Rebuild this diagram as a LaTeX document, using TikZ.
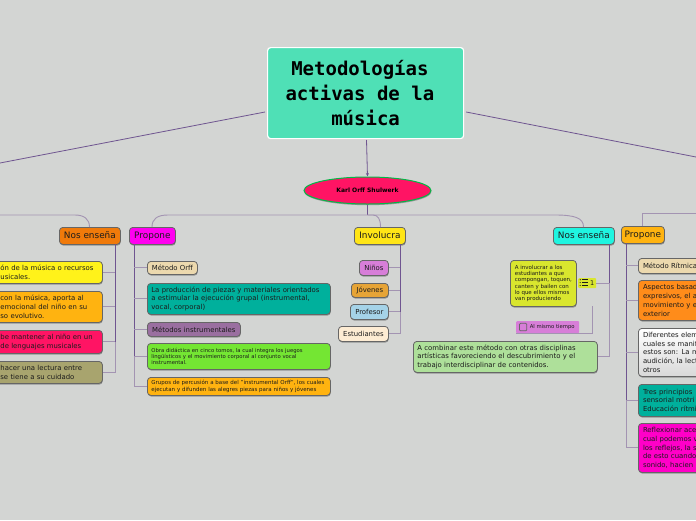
\documentclass[tikz,border=0pt]{standalone}
\usepackage{fontspec}
\setmainfont{DejaVu Sans}
\newfontfamily\titlefont{DejaVu Sans Mono}
\usetikzlibrary{shapes.geometric,shadows,arrows.meta}
\definecolor{bgc}{HTML}{D3D5D3}
\definecolor{trunkc}{HTML}{6F5590}
\definecolor{softc}{HTML}{A394B2}
\definecolor{edgec}{HTML}{666666}
\definecolor{txtc}{HTML}{1C1C1C}
\definecolor{titlec}{HTML}{4FE0B6}
\definecolor{pinkc}{HTML}{FF1464}
\definecolor{orangec}{HTML}{F07A0A}
\definecolor{yellowc}{HTML}{FFF21A}
\definecolor{amberc}{HTML}{FFB310}
\definecolor{olivec}{HTML}{A8A46E}
\definecolor{magentac}{HTML}{FF00F0}
\definecolor{creamc}{HTML}{ECD9AE}
\definecolor{tealc}{HTML}{00B09C}
\definecolor{mauvec}{HTML}{9A6FA0}
\definecolor{limec}{HTML}{74E633}
\definecolor{goldc}{HTML}{FFE516}
\definecolor{orchidc}{HTML}{D77ED8}
\definecolor{ochrec}{HTML}{E6A436}
\definecolor{bluec}{HTML}{A5D3E8}
\definecolor{peachc}{HTML}{FDECD3}
\definecolor{cyanc}{HTML}{1FF5E0}
\definecolor{acidc}{HTML}{D9E62E}
\definecolor{leafc}{HTML}{AEE09A}
\definecolor{tangc}{HTML}{FF8C1A}
\definecolor{hotc}{HTML}{FF00C8}
\tikzset{
  x=1pt,y=-1pt,
  boxbase/.style={rounded corners=3.5pt,draw=edgec,line width=.8pt,text=txtc,inner sep=0pt,
    drop shadow={shadow xshift=.4pt,shadow yshift=-1.2pt,fill=black,opacity=.3}},
  trunk/.style={draw=trunkc,line width=.9pt},
  soft/.style={draw=softc,line width=.9pt},
  top/.style={font=\fontsize{8.9}{10}\selectfont,align=center,text height=6.6pt,text depth=1.8pt},
  mid/.style={font=\fontsize{6.9}{8.7}\selectfont,align=left},
  small/.style={font=\fontsize{5.3}{6.3}\selectfont,align=left},
}
% name, x, y, w, h, options, text
\newcommand\bx[7]{\node[boxbase,anchor=north west,minimum width=#4pt,minimum height=#5pt,#6] (#1) at (#2,#3) {#7};}
\begin{document}
\begin{tikzpicture}
\useasboundingbox (0,0) rectangle (696,520);
\clip (0,0) rectangle (696,520);
\fill[bgc] (0,0) rectangle (696,520);

% centre
\node[draw=white,line width=1.2pt,rounded corners=3pt,fill=titlec,minimum width=196pt,minimum height=91pt,anchor=north west,inner sep=0pt,align=center,
  font=\titlefont\bfseries\fontsize{19}{25}\selectfont] (title) at (267,47) {Metodologías\rule{11.4pt}{0pt}\\activas de la\rule{11.4pt}{0pt}\\música};
\node[ellipse,draw=green!45!teal,line width=1pt,fill=pinkc,minimum width=127pt,minimum height=27pt,inner sep=0pt,anchor=center,
  font=\bfseries\fontsize{6}{7}\selectfont,
  drop shadow={shadow xshift=.4pt,shadow yshift=-1.2pt,fill=black,opacity=.3}] (karl) at (367.5,190.5) {Karl Orff Shulwerk};

% left branch
\bx{a0}{59}{227}{61}{17}{fill=orangec,top}{Nos enseña}
\bx{a1}{-60}{261}{162}{22}{fill=yellowc,mid,text width=160pt}{\hspace*{59pt}ón de la música o recursos\\\hspace*{59pt}usicales.}
\bx{a2}{-60}{291}{162}{31}{fill=amberc,mid,text width=160pt}{\hspace*{59pt}con la música, aporta al\\\hspace*{59pt}emocional del niño en su\\\hspace*{59pt}so evolutivo.}
\bx{a3}{-60}{330}{162}{23}{fill=pinkc,mid,text width=160pt}{\hspace*{59pt}be mantener al niño en un\\\hspace*{59pt}de lenguajes musicales}
\bx{a4}{-60}{361}{162}{22}{fill=olivec,mid,text width=160pt}{\hspace*{59pt}hacer una lectura entre\\\hspace*{59pt}se tiene a su cuidado}

% Propone
\bx{b0}{129}{227}{46}{17}{fill=magentac,top}{Propone}
\bx{b1}{147}{261}{50}{13}{fill=creamc,mid,align=center}{Método Orff}
\bx{b2}{147}{283}{183}{31}{fill=tealc,mid,text width=175pt,inner xsep=4pt}{La producción de piezas y materiales orientados\\a estimular la ejecución grupal (instrumental,\\vocal, corporal)}
\bx{b3}{147}{322}{93}{14}{fill=mauvec,mid,align=center}{Métodos instrumentales}
\bx{b4}{147}{343}{183}{26}{fill=limec,small,text width=175pt,inner xsep=4pt}{Obra didáctica en cinco tomos, la cual integra los juegos\\lingüísticos y el movimiento corporal al conjunto vocal\\instrumental.}
\bx{b5}{147}{377}{183}{18}{fill=amberc,small,font=\fontsize{5.5}{6.3}\selectfont,text width=175pt,inner xsep=4pt}{Grupos de percusión a base del "instrumental Orff", los cuales\\ejecutan y difunden las alegres piezas para niños y jóvenes}

% Involucra
\bx{c0}{354}{227}{51}{17}{fill=goldc,top}{Involucra}
\bx{c1}{359}{260}{29}{15}{fill=orchidc,mid,align=center}{Niños}
\bx{c2}{351}{283}{37}{14}{fill=ochrec,mid,align=center}{Jóvenes}
\bx{c3}{350}{304}{38}{15}{fill=bluec,mid,align=center}{Profesor}
\bx{c4}{338}{326}{50}{15}{fill=peachc,mid,align=center}{Estudiantes}

% Nos ensena right
\bx{d0}{553}{227}{61}{17}{fill=cyanc,top}{Nos enseña}
\bx{d1}{510}{260}{66}{46}{fill=acidc,small,font=\fontsize{5.5}{6.3}\selectfont}{A involucrar a los\\estudiantes a que\\compongan, toquen,\\canten y bailen con\\lo que ellos mismos\\van produciendo}
\node[fill=acidc,rounded corners=1pt,minimum width=18pt,minimum height=10pt,inner sep=0pt,anchor=north west,text=txtc,font=\fontsize{6.5}{7}\selectfont] (d2) at (578,278) {\hspace*{10pt}1};
\node[fill=orchidc,rounded corners=1pt,minimum width=63pt,minimum height=12pt,inner sep=0pt,anchor=north west,text=txtc,font=\fontsize{5.3}{6}\selectfont] (d3) at (516,321) {\hspace*{9pt}Al mismo tiempo};
\bx{d4}{413}{341}{184}{31}{fill=leafc,mid,text width=176pt,inner xsep=4pt}{A combinar este método con otras disciplinas\\artísticas favoreciendo el descubrimiento y el\\trabajo interdisciplinar de contenidos.}
\draw[edgec,rounded corners=1pt,line width=.7pt] (519.5,323.3) rectangle (526.7,330.8);
\foreach \yy in {279.8,282.6,285.4}{
  \draw[txtc,line width=.7pt] (581.8,\yy) -- (588,\yy);
  \fill[txtc] (580.2,\yy) circle (.6pt);
}

% Propone right
\bx{e0}{621}{226}{43}{17}{fill=amberc,top}{Propone}
\bx{e1}{638}{258}{110}{15}{fill=creamc,mid,text width=101pt,inner xsep=4.6pt}{Método Rítmica}
\bx{e2}{638}{280}{110}{40}{fill=tangc,mid,text width=101pt,inner xsep=4.6pt}{Aspectos basad\\expresivos, el a\\movimiento y e\\exterior}
\bx{e3}{638}{328}{110}{48}{top color=white,bottom color=gray!30,mid,text width=101pt,inner xsep=4.6pt}{Diferentes elem\\cuales se manif\\estos son: La m\\audición, la lect\\otros}
\bx{e4}{638}{384}{110}{32}{fill=tealc,mid,text width=101pt,inner xsep=4.6pt}{Tres principios\\sensorial motri\\Educación rítmi}
\bx{e5}{638}{423}{110}{49}{fill=hotc,mid,text width=101pt,inner xsep=4.6pt}{Reflexionar ace\\cual podemos v\\los reflejos, la s\\de esto cuando\\sonido, hacien}

% coordinates for connectors
\coordinate (ltl) at (0,163);
\coordinate (ltr) at (696,157);
\coordinate (hub) at (367.5,215);
\coordinate (hl) at (0,215);
\coordinate (hr) at (696,213);
\coordinate (a0t) at (89.5,227);
\coordinate (b0t) at (152,227);
\coordinate (c0t) at (380.5,227);
\coordinate (d0t) at (583.5,227);
\coordinate (e0t) at (642,226);
\coordinate (ta) at (115,244);
\coordinate (tb) at (134,244);
\coordinate (tc) at (400,244);
\coordinate (td) at (609,244);
\coordinate (te) at (626,243);
\coordinate (d3r) at (592,306);

% connectors
\draw[trunkc,line width=.8pt] (title.west |- 0,112) ++(-2,0) -- (ltl);
\draw[trunkc,line width=.8pt] (title.east |- 0,112) ++(2,0) -- (ltr);
\draw[trunkc,line width=.8pt,-{Stealth[length=3.5pt,width=3pt]}] (366.5,140) -- (karl.north);
\draw[trunkc,line width=1.1pt] (karl.south) -- (hub);
\draw[soft] (hl) -- (75,215) .. controls (84,215) and (89.5,219) .. (a0t);
\draw[soft] (b0t) .. controls (152,219) and (157,215) .. (168,215) -- (hub);
\draw[soft] (hub) -- (373,215) .. controls (378,215) and (380.5,219) .. (c0t);
\draw[soft] (hub) -- (555,215) .. controls (575,215) and (583.5,218) .. (d0t);
\draw[soft] (e0t) -- (642,213) -- (hr);

\draw[soft] (ta |- a3.east) |- (a4.east);
\draw[trunk] (ta) -- (ta |- a3.east);
\foreach \n in {a1,a2,a3}{\draw[soft] (ta |- \n.east) -- (\n.east);}

\draw[soft] (tb |- b4.west) |- (b5.west);
\draw[trunk] (tb) -- (tb |- b4.west);
\foreach \n in {b1,b2,b3,b4}{\draw[soft] (tb |- \n.west) -- (\n.west);}

\draw[soft] (tc |- c3.east) |- (c4.east);
\draw[trunk] (tc) -- (tc |- c3.east);
\foreach \n in {c1,c2,c3}{\draw[soft] (tc |- \n.east) -- (\n.east);}

\draw[trunk] (td) -- (td |- d2.east);
\draw[soft] (td |- d2.east) -- (d2.east);
\draw[soft] (td |- d2.east) |- (d4.east);
\draw[soft] (d3r) |- (d3.south west);

\draw[soft] (te |- e4.west) |- (e5.west);
\draw[trunk] (te) -- (te |- e4.west);
\foreach \n in {e1,e2,e3,e4}{\draw[soft] (te |- \n.west) -- (\n.west);}
\end{tikzpicture}
\end{document}
